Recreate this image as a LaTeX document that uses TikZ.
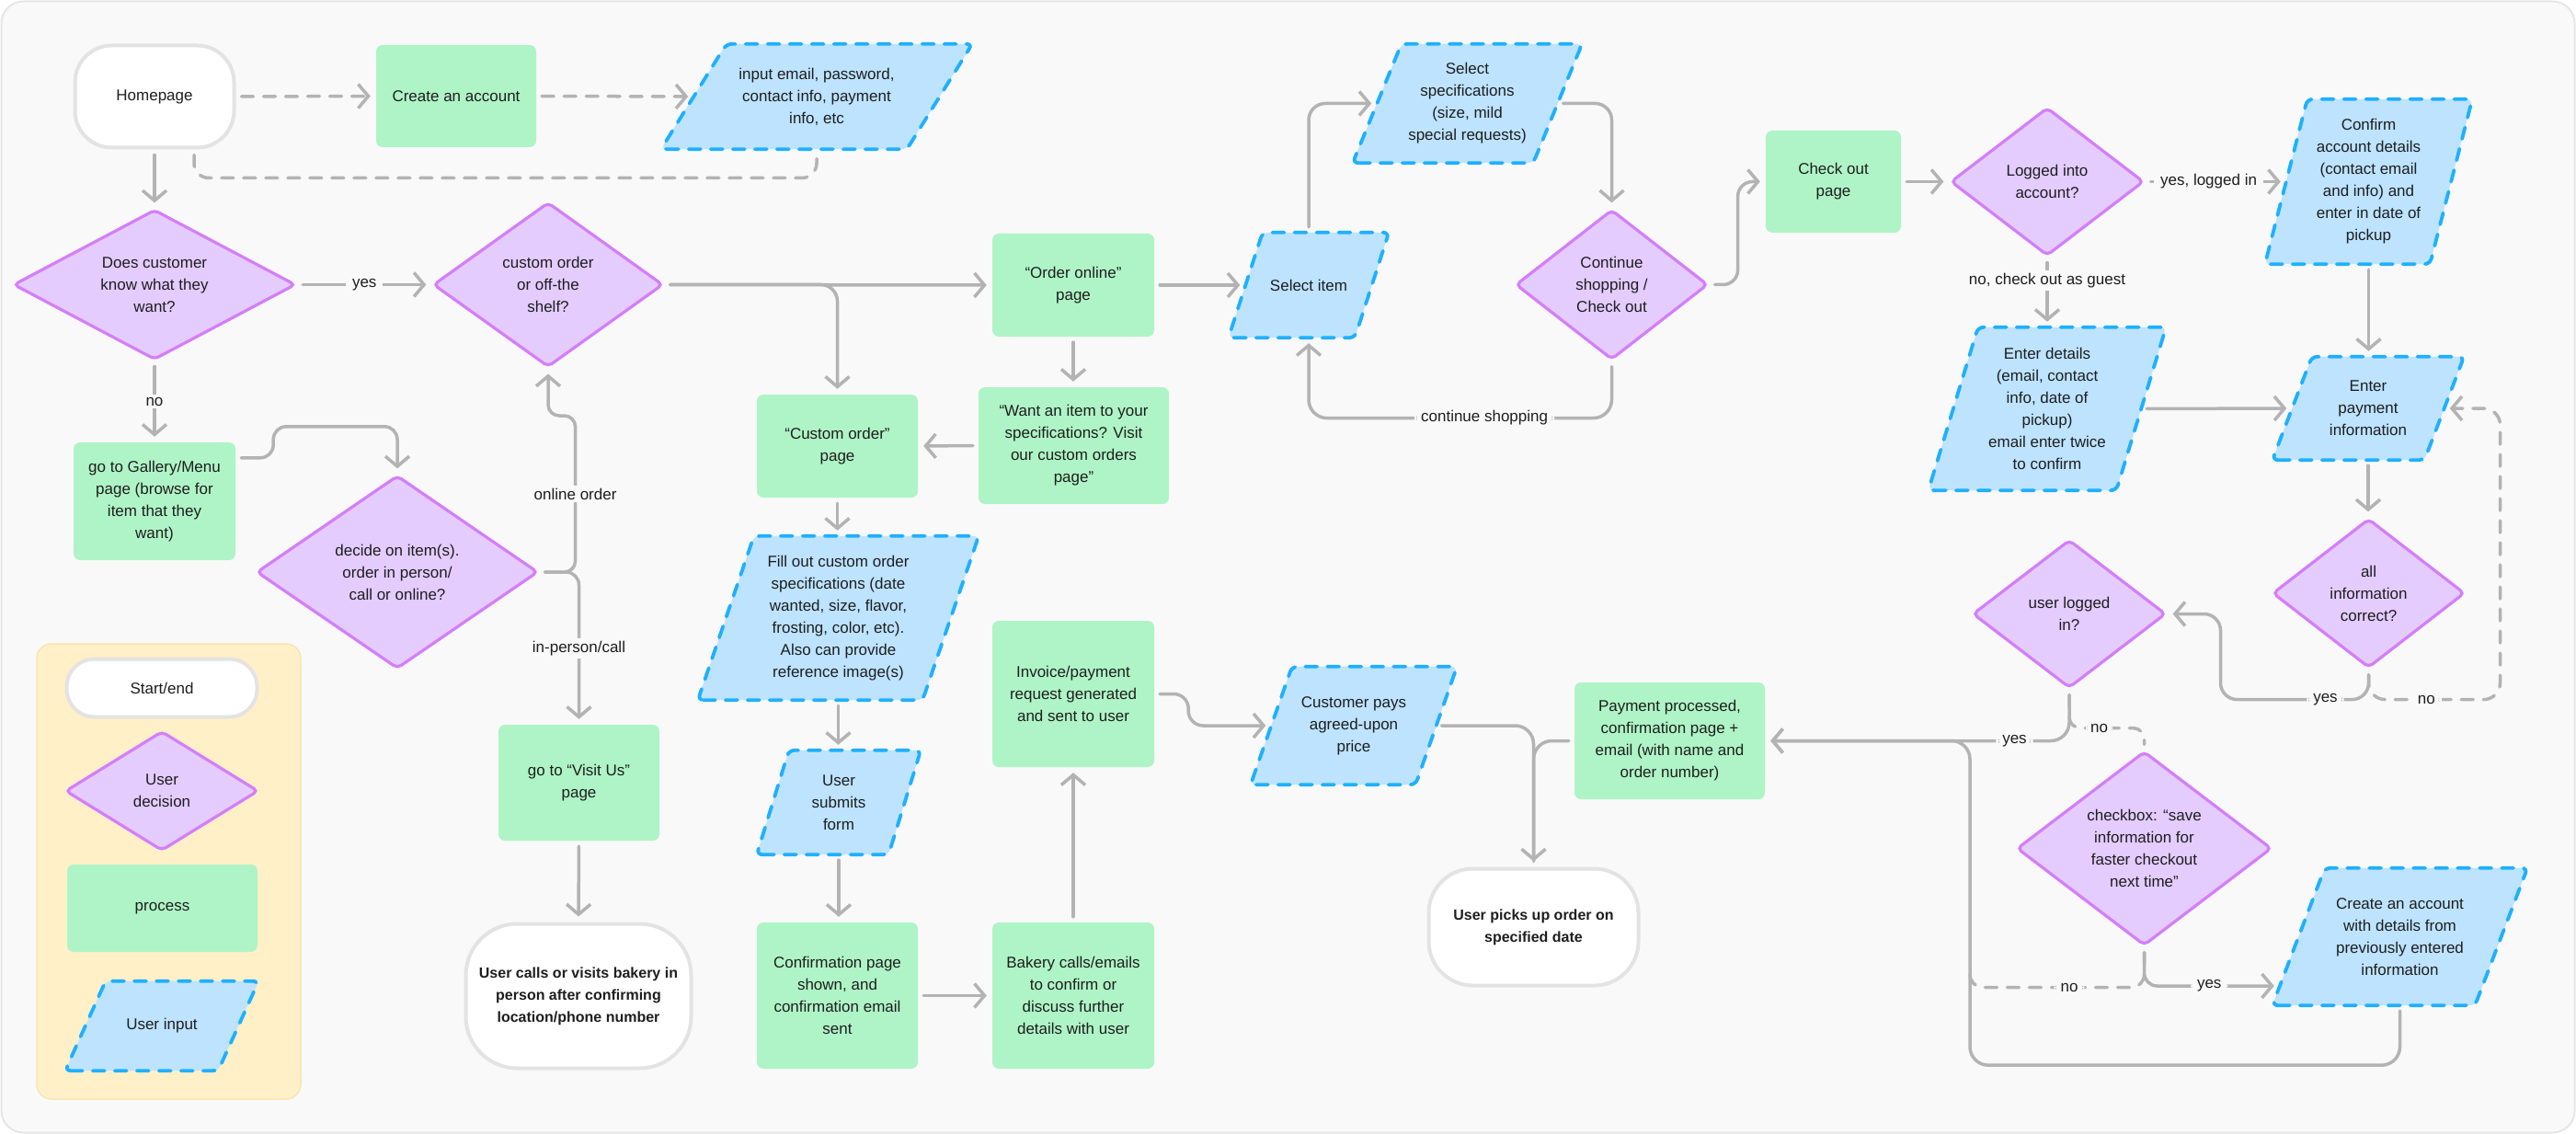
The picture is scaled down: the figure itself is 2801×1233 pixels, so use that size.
\documentclass[tikz,border=0pt]{standalone}
\usepackage{fontspec}
\setmainfont{Liberation Sans}
\usetikzlibrary{shapes.geometric,arrows.meta}
\definecolor{pagebg}{HTML}{F9F9F9}
\definecolor{framec}{HTML}{E6E6E6}
\definecolor{ink}{HTML}{1E1E1E}
\definecolor{procgreen}{HTML}{AFF4C6}
\definecolor{decfill}{HTML}{E4CCFF}
\definecolor{decline}{HTML}{D47EFB}
\definecolor{inpfill}{HTML}{BDE3FF}
\definecolor{inpline}{HTML}{1FB0FF}
\definecolor{conngray}{HTML}{B3B3B3}
\definecolor{termline}{HTML}{E3E3E3}
\definecolor{legfill}{HTML}{FFF0C7}
\definecolor{legline}{HTML}{F7E5B4}
\pgfdeclarelayer{back}
\pgfdeclarelayer{bg}
\pgfsetlayers{back,bg,main}
\tikzset{
  base/.style={font=\fontsize{17}{24}\selectfont, text=ink, align=center, inner sep=0pt},
  proc/.style={base, rectangle, fill=procgreen, rounded corners=7},
  term/.style={base, rectangle, fill=white, draw=termline, line width=4},
  termb/.style={term, font=\fontsize{16}{24}\selectfont\bfseries},
  dec/.style={base, diamond, shape aspect=1.5, fill=decfill, draw=decline, line width=3.2, rounded corners=5},
  ptext/.style={base, rectangle},
  pshape/.style={fill=inpfill, draw=inpline, line width=3.8, line cap=round, dash pattern=on 13pt off 11pt, rounded corners=6},
  conn/.style={draw=conngray, line width=3.5, line cap=round, line join=round, shorten >=6pt, shorten <=6pt},
  arr/.style={-{Straight Barb[length=11pt,width=26pt]}},
  dconn/.style={conn, dash pattern=on 13pt off 11pt},
  lbl/.style={base, fill=pagebg, inner xsep=7pt, inner ysep=3pt},
}
% name, cx, cy, edge width, height, slant, text
\newcommand\inpnode[7]{%
  \node[ptext, minimum width=#4, minimum height=#5] (#1) at (#2,#3) {#7};
  \begin{pgfonlayer}{bg}
    \path[pshape] ([xshift=-#6/2]#1.south west) -- ([xshift=-#6/2]#1.south east)
      -- ([xshift=#6/2]#1.north east) -- ([xshift=#6/2]#1.north west) -- cycle;
  \end{pgfonlayer}}
\begin{document}
\begin{tikzpicture}[x=1pt,y=-1pt]
\useasboundingbox (0,0) rectangle (2801,1233);
\begin{pgfonlayer}{back}
  \fill[white] (0,0) rectangle (2801,1233);
  \draw[fill=pagebg, draw=framec, line width=2, rounded corners=24] (1.5,1.5) rectangle (2799.5,1231.5);
  \draw[fill=legfill, draw=legline, line width=1.5, rounded corners=16] (40,700) rectangle (327,1195);
\end{pgfonlayer}

% terminals
\node[term, minimum width=173, minimum height=111, rounded corners=40] (hp) at (168,105) {Homepage};
\node[termb, minimum width=245, minimum height=157, rounded corners=56] (calls) at (629,1083) {User calls or visits bakery in\\person after confirming\\location/phone number};
\node[termb, minimum width=228, minimum height=127, rounded corners=48] (pickup) at (1667.5,1008) {User picks up order on\\specified date};
\node[term, minimum width=207, minimum height=63, rounded corners=30] (lgterm) at (176,748) {Start/end};

% processes
\node[proc, minimum width=174, minimum height=111] (create) at (496,104.5) {Create an account};
\node[proc, minimum width=176, minimum height=112] (order) at (1167,310) {“Order online”\\page};
\node[proc, minimum width=147, minimum height=111] (checkout) at (1993.5,197.5) {Check out\\page};
\node[proc, minimum width=176, minimum height=128] (gallery) at (168,545) {go to Gallery/Menu\\page (browse for\\item that they\\want)};
\node[proc, minimum width=175, minimum height=112] (custom) at (910.5,485) {“Custom order”\\page};
\node[proc, minimum width=207, minimum height=127] (want) at (1167.5,484.5) {“Want an item to your\\specifications? Visit\\our custom orders\\page”};
\node[proc, minimum width=176, minimum height=159] (invoice) at (1167,754.5) {Invoice/payment\\request generated\\and sent to user};
\node[proc, minimum width=175, minimum height=159] (conf) at (910.5,1082.5) {Confirmation page\\shown, and\\confirmation email\\sent};
\node[proc, minimum width=176, minimum height=159] (bakery) at (1167,1082.5) {Bakery calls/emails\\to confirm or\\discuss further\\details with user};
\node[proc, minimum width=175, minimum height=126] (visit) at (629.5,851) {go to “Visit Us”\\page};
\node[proc, minimum width=207, minimum height=127] (procd) at (1815.5,805.5) {Payment processed,\\confirmation page +\\email (with name and\\order number)};
\node[proc, minimum width=207, minimum height=95] (lgproc) at (176.5,987.5) {process};

% decisions
\node[dec, minimum width=307, minimum height=163] (d1) at (168,309.5) {Does customer\\know what they\\want?};
\node[dec, minimum width=250, minimum height=179] (d2) at (596,309.5) {custom order\\or off-the\\shelf?};
\node[dec, minimum width=306, minimum height=210] (decide) at (432,622) {decide on item(s).\\order in person/\\call or online?};
\node[dec, minimum width=209, minimum height=163] (cont) at (1752.5,309.5) {Continue\\shopping /\\Check out};
\node[dec, minimum width=210, minimum height=161] (logged) at (2226,197.5) {Logged into\\account?};
\node[dec, minimum width=209, minimum height=162] (allinfo) at (2575.5,645) {all\\information\\correct?};
\node[dec, minimum width=210, minimum height=161] (ulog) at (2250,667.5) {user logged\\in?};
\node[dec, minimum width=277, minimum height=211] (chk) at (2331.5,922.5) {checkbox: “save\\information for\\faster checkout\\next time”};
\node[dec, minimum width=210, minimum height=130] (lgdec) at (176,860) {User\\decision};

% user inputs
\inpnode{input}{888}{105}{267}{114}{71}{input email, password,\\contact info, payment\\info, etc}
\inpnode{selitem}{1423}{310}{137}{114}{37}{Select item}
\inpnode{selspec}{1595.5}{112.5}{196}{129}{53}{Select\\specifications\\(size, mild\\special requests)}
\inpnode{confirm}{2575.5}{197.5}{179}{179}{46}{Confirm\\account details\\(contact email\\and info) and\\enter in date of\\pickup}
\inpnode{details}{2226}{444.5}{204}{177}{54}{Enter details\\(email, contact\\info, date of\\pickup)\\email enter twice\\to confirm}
\inpnode{payment}{2575}{444}{165}{112}{43}{Enter\\payment\\information}
\inpnode{fillout}{911.5}{672}{244}{178}{61}{Fill out custom order\\specifications (date\\wanted, size, flavor,\\frosting, color, etc).\\Also can provide\\reference image(s)}
\inpnode{submit}{912}{872.5}{143}{113}{35}{User\\submits\\form}
\inpnode{pays}{1472}{789}{179}{128}{45}{Customer pays\\agreed-upon\\price}
\inpnode{acct}{2609.5}{1018.5}{220}{149}{57}{Create an account\\with details from\\previously entered\\information}
\inpnode{lginp}{176}{1115.5}{166}{97}{44}{User input}

% connectors: top-left
\draw[dconn, arr] (hp.east) -- (create.west);
\draw[dconn, arr] (create.east) -- (input.west);
\draw[dconn, rounded corners=16] ([xshift=43]hp.south) -- ++(0,31) -| (input.south);
\draw[conn, arr] (hp.south) -- (d1.north);
\draw[conn, arr] (d1.east) -- node[lbl] {yes} (d2.west);
\draw[conn, arr] (d1.south) -- node[lbl] {no} (gallery.north);
\draw[conn, arr, rounded corners=14] ([yshift=-17]gallery.north east) -- ++(41,0) -- ++(0,-34) -| (decide.north);
\draw[conn, arr, rounded corners=12] (decide.east) -| ++(39,-170) node[lbl, pos=0.75] {online order} -| (d2.south);
\draw[conn, arr, rounded corners=14] (decide.east) -| node[lbl, pos=0.75] {in-person/call} (visit.north);
\draw[conn, arr] (visit.south) -- (calls.north);

% connectors: online order
\draw[conn, arr] (d2.east) -- (order.west);
\draw[conn, arr, rounded corners=18] (d2.east) -| (custom.north);
\draw[conn, arr] (order.south) -- (order.south |- want.north);
\draw[conn, arr] (want.west) -- (custom.east);
\draw[conn, arr] (order.east) -- (selitem.west);
\draw[conn, arr, rounded corners=18] (selitem.north) |- (selspec.west);
\draw[conn, arr, rounded corners=18] (selspec.east) -| (cont.north);
\draw[conn, arr, rounded corners=16] (cont.east) -- ++(31,0) |- (checkout.west);
\draw[conn, arr, rounded corners=20] (cont.south) -- ++(0,62) -| node[lbl, pos=0.21] {continue shopping} (selitem.south);
\draw[conn, arr] (checkout.east) -- (logged.west);
\draw[conn, arr] (logged.east) -- node[lbl, pos=0.45] {yes, logged in} (confirm.west);
\draw[conn, arr] (logged.south) -- node[lbl, pos=0.33] {no, check out as guest} (details.north);
\draw[conn, arr] (confirm.south) -- (confirm.south |- payment.north);
\draw[conn, arr] (details.east) -- (payment.west);
\draw[conn, arr] (payment.south) -- (payment.south |- allinfo.north);
\draw[dconn, arr, rounded corners=18] (allinfo.south) |- ++(143,33) node[lbl, pos=0.72] {no} |- (payment.east);
\draw[conn, arr, rounded corners=18] (allinfo.south) |- ++(-161,33) node[lbl, pos=0.646] {yes} |- (ulog.east);
\draw[dconn, rounded corners=12] (ulog.south) -- ++(0,42) -| node[lbl, pos=0.2, inner xsep=5pt] {no} (chk.north);
\draw[conn, arr, rounded corners=20] (ulog.south) |- node[lbl, pos=0.59] {yes} (procd.east);
\draw[dconn, rounded corners=14] (chk.south) |- ++(-189.5,44) node[lbl, pos=0.715] {no} -- ++(0,-20);
\draw[conn, arr, rounded corners=14] (chk.south) |- node[lbl, pos=0.74] {yes} ([xshift=-20.5,yshift=-53.5]acct.west);
\draw[conn, arr, rounded corners=20] (acct.south) |- ++(-467.5,65) |- (procd.east);

% connectors: custom order
\draw[conn, arr] (custom.south) -- (custom.south |- fillout.north);
\draw[conn, arr] (fillout.south) -- (fillout.south |- submit.north);
\draw[conn, arr] (submit.south) -- (submit.south |- conf.north);
\draw[conn, arr] (conf.east) -- (bakery.west);
\draw[conn, arr] (bakery.north) -- (invoice.south);
\draw[conn, arr, rounded corners=16] (invoice.east) -- ++(37,0) |- (pays.west);
\draw[conn, arr, rounded corners=20] (pays.east) -| (pickup.north);
\draw[conn, rounded corners=20] (procd.west) -| (pickup.north);
\end{tikzpicture}
\end{document}
